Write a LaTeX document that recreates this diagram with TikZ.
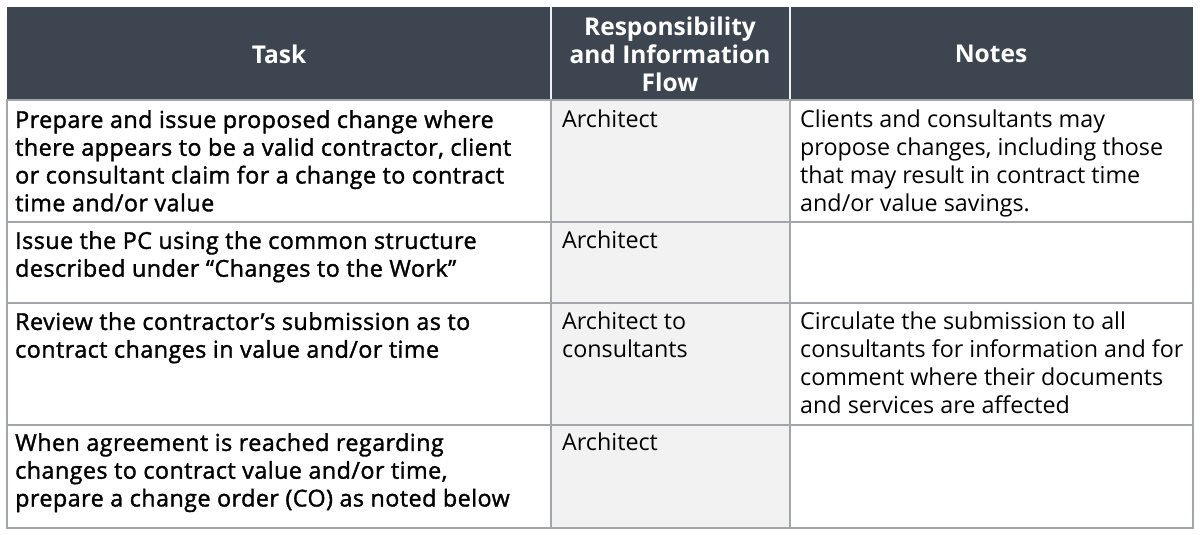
\documentclass[tikz,border=0pt]{standalone}
\usepackage{fontspec}
\setmainfont{Open Sans}
\newfontfamily\taskfont[FakeBold=1.5,LetterSpace=2]{Open Sans}
\definecolor{headgray}{HTML}{3D4550}
\definecolor{rulegray}{HTML}{A2A6AB}
\definecolor{cellgray}{HTML}{F2F2F2}
\begin{document}
\begin{tikzpicture}[x=1pt,y=-1pt,
  cell/.style={anchor=north west,inner sep=0pt,align=left,font=\fontsize{23.3}{27.8}\selectfont},
  task/.style={cell,font=\fontsize{23.3}{27.8}\selectfont\taskfont},
  head/.style={align=center,inner sep=0pt,text=white,font=\fontsize{24.5}{28}\selectfont\bfseries}]
\useasboundingbox (0,0) rectangle (1200,535);
% header and shaded column
\fill[headgray] (7,7) rectangle (1193,100);
\fill[cellgray] (551,100) rectangle (790,528);
\draw[line width=2pt,white!88!gray] (551,7) -- (551,100) (790,7) -- (790,100);
% grid
\draw[line width=1.5pt,rulegray] (7,100) rectangle (1193,528);
\draw[line width=1.5pt,rulegray] (7,222) -- (1193,222) (7,303) -- (1193,303) (7,425) -- (1193,425);
\draw[line width=1.5pt,rulegray] (551,100) -- (551,528) (790,100) -- (790,528);
% header texts
\node[head] (htask) at (279,54) {Task};
\node[head] (hresp) at (670,54) {Responsibility\\and Information\\Flow};
\node[head] (hnotes) at (991,54) {Notes};
% rows
\node[task] (t1) at (15,110) {Prepare and issue proposed change where\\there appears to be a valid contractor, client\\or consultant claim for a change to contract\\time and/or value};
\node[cell] (r1) at (562,110) {Architect};
\node[cell] (n1) at (800,110) {Clients and consultants may\\propose changes, including those\\that may result in contract time\\and/or value savings.};
\node[task] (t2) at (15,231) {Issue the PC using the common structure\\described under “Changes to the Work”};
\node[cell] (r2) at (562,231) {Architect};
\node[task] (t3) at (15,312) {Review the contractor’s submission as to\\contract changes in value and/or time};
\node[cell] (r3) at (562,312) {Architect to\\consultants};
\node[cell] (n3) at (800,312) {Circulate the submission to all\\consultants for information and for\\comment where their documents\\and services are affected};
\node[task] (t4) at (15,433) {When agreement is reached regarding\\changes to contract value and/or time,\\prepare a change order (CO) as noted below};
\node[cell] (r4) at (562,433) {Architect};
\end{tikzpicture}
\end{document}
